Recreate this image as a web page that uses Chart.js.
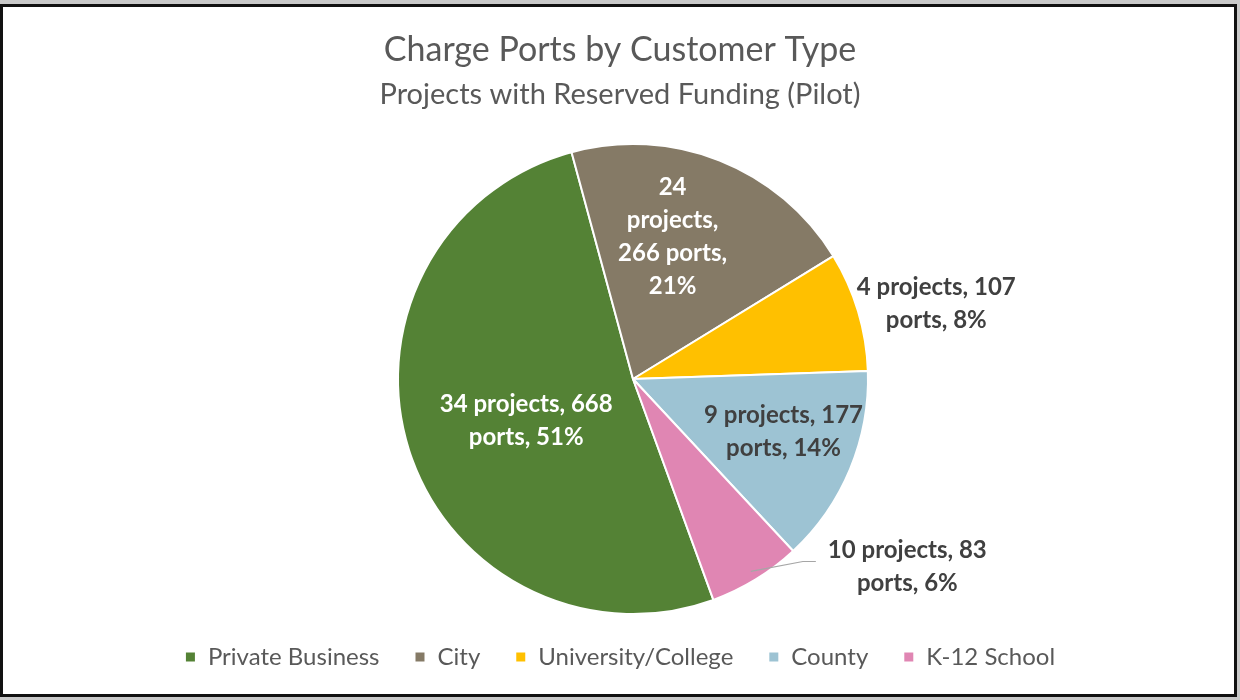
<!DOCTYPE html>
<html>
<head>
<meta charset="utf-8">
<script src="https://cdn.jsdelivr.net/npm/chart.js@4.4.1/dist/chart.umd.min.js"></script>
<style>
  html, body { margin: 0; padding: 0; background: #c9c9c9; }
  #frame { position: absolute; left: 0; top: 4px; width: 1231px; height: 687px; border: 3px solid #111; background: #fff; }
  #wrap { position: absolute; left: 0; top: 0; width: 1240px; height: 700px; }
</style>
</head>
<body>
<div id="frame"></div>
<div id="wrap"><canvas id="chart" width="1240" height="700"></canvas></div>
<script>
const categories = ['Private Business', 'City', 'University/College', 'County', 'K-12 School'];
const projects = [34, 24, 4, 9, 10];
const ports = [668, 266, 107, 177, 83];
const percents = [51, 21, 8, 14, 6];

const colors = ['#548235', '#857a66', '#ffc000', '#9dc3d3', '#e086b3'];
const FONT = 'Lato';
const LABEL_SIZE = 24;

// where the pie sits on the page
const PIE_CX = 633;
const PIE_CY = 379;
const PIE_R = 235;

// label placement per slice: radius factor, nudge, wrap width, colour
const labelStyle = [
  { f: 0.49, dx: 3, dy: 7, wrap: 200, color: '#ffffff' },
  { f: 0.63, dx: -15, dy: -5, wrap: 118, color: '#ffffff' },
  { f: 1.33, dx: 4, dy: 15, wrap: 200, color: '#404040' },
  { f: 0.675, dx: 4, dy: -8, wrap: 200, color: '#404040' },
  { f: 1.29, dx: 116, dy: -71, wrap: 200, color: '#404040', leader: true },
];

function wrapText(ctx, text, maxW) {
  const words = text.split(' ');
  const lines = [];
  let line = '';
  words.forEach((w) => {
    const test = line ? line + ' ' + w : w;
    if (line && ctx.measureText(test).width > maxW) {
      lines.push(line);
      line = w;
    } else {
      line = test;
    }
  });
  if (line) lines.push(line);
  return lines;
}

// put the pie at a fixed spot, whatever title/legend take
const pieBox = {
  id: 'pieBox',
  afterLayout(chart) {
    const a = chart.chartArea;
    a.left = PIE_CX - PIE_R;
    a.right = PIE_CX + PIE_R;
    a.top = PIE_CY - PIE_R;
    a.bottom = PIE_CY + PIE_R;
    a.width = PIE_R * 2;
    a.height = PIE_R * 2;
  },
};

const sliceLabels = {
  id: 'sliceLabels',
  afterDatasetsDraw(chart) {
    const ctx = chart.ctx;
    const meta = chart.getDatasetMeta(0);
    ctx.save();
    ctx.font = 'bold ' + LABEL_SIZE + 'px ' + FONT;
    ctx.textAlign = 'center';
    ctx.textBaseline = 'middle';
    const lineH = 33;
    meta.data.forEach((arc, i) => {
      const p = arc.getProps(['x', 'y', 'startAngle', 'endAngle', 'outerRadius'], true);
      const mid = (p.startAngle + p.endAngle) / 2;
      const st = labelStyle[i];
      const lx = p.x + Math.cos(mid) * p.outerRadius * st.f + st.dx;
      const ly = p.y + Math.sin(mid) * p.outerRadius * st.f + st.dy;
      const text = projects[i] + ' projects, ' + ports[i] + ' ports, ' + percents[i] + '%';
      const lines = wrapText(ctx, text, st.wrap);
      const top = ly - ((lines.length - 1) * lineH) / 2;
      let maxW = 0;
      ctx.fillStyle = st.color;
      lines.forEach((ln, k) => {
        maxW = Math.max(maxW, ctx.measureText(ln).width);
        ctx.fillText(ln, lx, top + k * lineH);
      });
      if (st.leader) {
        const sx = p.x + Math.cos(mid) * p.outerRadius * 0.96;
        const sy = p.y + Math.sin(mid) * p.outerRadius * 0.96;
        const ex = lx - maxW / 2 - 12;
        ctx.strokeStyle = '#a6a6a6';
        ctx.lineWidth = 1.2;
        ctx.beginPath();
        ctx.moveTo(sx, sy);
        ctx.lineTo(ex - 13, ly - 5);
        ctx.lineTo(ex, ly - 5);
        ctx.stroke();
      }
    });
    ctx.restore();
  },
};

function drawChart() {
  const config = {
    type: 'pie',
    data: {
      labels: categories,
      datasets: [
        {
          data: ports,
          backgroundColor: colors,
          borderColor: '#ffffff',
          borderWidth: 2,
          radius: PIE_R,
          clip: false,
        },
      ],
    },
    options: {
      responsive: false,
      animation: false,
      rotation: 160,
      layout: { padding: { bottom: 21 } },
      plugins: {
        title: {
          display: true,
          text: 'Charge Ports by Customer Type',
          color: '#595959',
          font: { family: FONT, size: 34, weight: 'normal', lineHeight: 1 },
          padding: { top: 33, bottom: 0 },
        },
        subtitle: {
          display: true,
          text: 'Projects with Reserved Funding (Pilot)',
          color: '#595959',
          font: { family: FONT, size: 29, weight: 'normal', lineHeight: 1 },
          padding: { top: 13, bottom: 0 },
        },
        legend: {
          position: 'bottom',
          labels: {
            boxWidth: 11,
            boxHeight: 11,
            padding: 35,
            color: '#595959',
            font: { family: FONT, size: 24 },
          },
        },
        tooltip: { enabled: false },
      },
    },
    plugins: [pieBox, sliceLabels],
  };
  new Chart(document.getElementById('chart'), config);
}

Promise.all([
  document.fonts.load('24px ' + FONT),
  document.fonts.load('bold 24px ' + FONT),
]).then(drawChart, drawChart);
</script>
</body>
</html>
